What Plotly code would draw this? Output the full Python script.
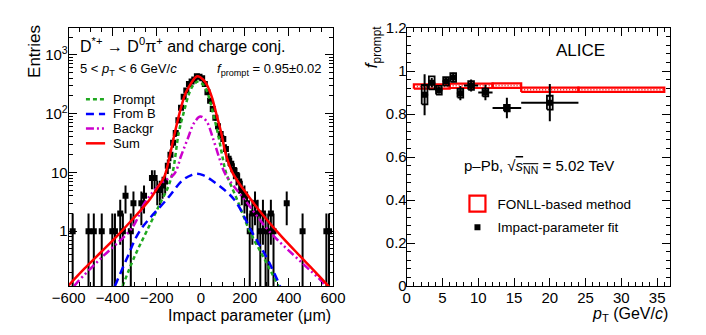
import numpy as np
import plotly.graph_objects as go

W, H = 706, 335

# ---- left panel: impact parameter distribution, 5 < pT < 6 GeV/c (12 um bins, non-empty only)
ip_centers = [-582, -510, -486, -450, -402, -390, -366, -354, -342, -318, -306, -270, -258,
              -222, -210, -198, -186, -174, -162, -150, -138, -126, -114, -102, -90, -78,
              -66, -54, -42, -30, -18, -6, 6, 18, 30, 42, 54, 66, 78, 90, 102, 114, 126,
              138, 150, 162, 174, 186, 198, 210, 222, 234, 246, 258, 270, 282, 294, 306,
              318, 330, 390, 462, 570, 582]
ip_counts = [1, 1, 1, 1, 1, 1, 2, 1, 4, 1, 3, 3, 4,
             8, 8, 5, 5, 6, 7, 13, 20, 32, 47, 77, 126, 194,
             248, 318, 350, 382, 433, 425, 400, 320, 230, 165, 120, 85, 61, 45, 37, 25, 17,
             14, 11, 9, 7, 5, 4, 3, 1, 2, 3, 2, 1, 2, 1, 1,
             2, 1, 3, 1, 1, 1]

# fit components
sum_x = [-600, -529, -456, -384, -311, -231, -190, -166, -140, -120, -97, -70, -46, -25,
         -13, 10, 27, 50, 70, 92, 114, 143, 194, 281, 368, 469, 571, 600]
sum_y = [0.12, 0.23, 0.43, 0.8, 1.58, 3.5, 6.0, 8.4, 20, 44, 101, 220, 320, 412,
         430, 380, 310, 190, 100, 48, 20, 10, 5.1, 1.9, 0.8, 0.32, 0.126, 0.095]

prompt_x = [-355, -304, -246, -179, -150, -128, -100, -79, -50, -30, -11, 10, 30, 56,
            80, 100, 114, 168, 222, 290, 353]
prompt_y = [0.117, 0.35, 1.0, 3.3, 5.5, 10, 48, 100, 236, 319, 350, 312, 227, 100,
            41, 17, 10, 3.2, 1.0, 0.33, 0.117]

fromb_x = [-390, -335, -278, -154, -82, -40, -17, 10, 48, 150, 230, 300, 360]
fromb_y = [0.117, 0.35, 1.0, 3.5, 7.4, 9.1, 9.5, 9.0, 7.4, 3.5, 1.0, 0.35, 0.117]

bkg_x = [-575, -556, -456, -311, -253, -180, -120, -90, -60, -30, -2, 25, 56, 85,
         110, 160, 208, 310, 455, 549, 565]
bkg_y = [0.117, 0.142, 0.34, 1.16, 3.1, 6.5, 9.5, 19, 37, 70, 89, 75, 37, 17,
         9.5, 5.2, 3.1, 1.0, 0.3, 0.14, 0.117]

# ---- right panel: f_prompt vs pT
pt_cent = [2.5, 3.5, 4.5, 5.5, 6.5, 7.5, 9, 11, 14, 20]
pt_halfw = [0.5, 0.5, 0.5, 0.5, 0.5, 0.5, 1, 1, 2, 4]
fp_val = [0.89, 0.945, 0.911, 0.952, 0.970, 0.897, 0.933, 0.900, 0.828, 0.853]
fp_stat = [0.095, 0.022, 0.015, 0.015, 0.022, 0.033, 0.028, 0.036, 0.048, 0.087]
fp_syst = [0.045, 0.030, 0.020, 0.020, 0.020, 0.020, 0.020, 0.018, 0.015, 0.032]

fonll_lo = [1, 6, 12, 16, 24]
fonll_hi = [6, 12, 16, 24, 36]
fonll_min = [0.918, 0.921, 0.922, 0.903, 0.903]
fonll_max = [0.938, 0.941, 0.943, 0.923, 0.923]

FONT = "Liberation Sans"


def px(x):
    return x / W


def py(y):
    return 1 - y / H


def box_path(x0, x1, y0, y1):
    xs, ys = [], []
    for a, b, c, d in zip(x0, x1, y0, y1):
        xs += [a, b, b, a, a, None]
        ys += [c, c, d, d, c, None]
    return xs, ys


fig = go.Figure()

# histogram points
fig.add_trace(go.Scatter(
    x=ip_centers, y=ip_counts, mode="markers", showlegend=False,
    marker=dict(symbol="square", size=6, color="black"),
    error_y=dict(type="data", array=np.sqrt(ip_counts), color="black", thickness=2, width=0),
    xaxis="x", yaxis="y"))

curves = [
    ("Prompt", prompt_x, prompt_y, "#1fa81f", "4px,3px"),
    ("From B", fromb_x, fromb_y, "#0000ff", "8px,5px"),
    ("Backgr", bkg_x, bkg_y, "#cc00cc", "8px,3px,2px,3px,2px,3px"),
    ("Sum", sum_x, sum_y, "#ff0000", "solid"),
]
for name, xs, ys, col, dash in curves:
    fig.add_trace(go.Scatter(
        x=xs, y=ys, mode="lines", name=name, showlegend=False,
        line=dict(color=col, width=2.5, dash=dash, shape="spline", smoothing=1.0),
        xaxis="x", yaxis="y"))

# legend of the fit components (compact ROOT-like rows)
for i, (name, xs, ys, col, dash) in enumerate(curves):
    yy = 95 + 15.5 * i
    fig.add_shape(type="line", xref="paper", yref="paper",
                  x0=px(72), x1=px(92), y0=py(yy), y1=py(yy),
                  line=dict(color=col, width=2.5, dash=dash))
    fig.add_annotation(text=name, x=px(98), y=py(yy), xref="paper", yref="paper",
                       showarrow=False, xanchor="left", yanchor="middle",
                       font=dict(family=FONT, size=13, color="black"))

# FONLL boxes
bx, by = box_path(fonll_lo, fonll_hi, fonll_min, fonll_max)
fig.add_trace(go.Scatter(x=bx, y=by, mode="lines", showlegend=False,
                         line=dict(color="red", width=2.2), xaxis="x2", yaxis="y2"))
mid_x, mid_y = [], []
for a, b, c, d in zip(fonll_lo, fonll_hi, fonll_min, fonll_max):
    mid_x += [a, b, None]
    mid_y += [(c + d) / 2, (c + d) / 2, None]
fig.add_trace(go.Scatter(x=mid_x, y=mid_y, mode="lines", showlegend=False,
                         line=dict(color="red", width=1.5, dash="1px,2px"),
                         xaxis="x2", yaxis="y2"))
fig.add_trace(go.Scatter(x=[None], y=[None], mode="markers", name="FONLL-based method",
                         legend="legend2", legendgroup="a",
                         marker=dict(symbol="square-open", size=16, color="red",
                                     line=dict(width=2.2)),
                         xaxis="x2", yaxis="y2"))

# systematic boxes of the fit points
sx, sy = box_path([c - 0.4 for c in pt_cent], [c + 0.4 for c in pt_cent],
                  [v - s for v, s in zip(fp_val, fp_syst)],
                  [v + s for v, s in zip(fp_val, fp_syst)])
fig.add_trace(go.Scatter(x=sx, y=sy, mode="lines", showlegend=False,
                         line=dict(color="black", width=1.8), xaxis="x2", yaxis="y2"))

fig.add_trace(go.Scatter(
    x=pt_cent, y=fp_val, mode="markers", name="Impact-parameter fit",
    legend="legend2", legendgroup="b",
    marker=dict(symbol="square", size=6, color="black"),
    error_x=dict(type="data", array=pt_halfw, color="black", thickness=2, width=0),
    error_y=dict(type="data", array=fp_stat, color="black", thickness=2, width=0),
    xaxis="x2", yaxis="y2"))

axis_style = dict(showline=True, linecolor="black", linewidth=1, mirror="allticks",
                  ticks="inside", ticklen=8, tickwidth=1, tickcolor="black",
                  showgrid=False, zeroline=False,
                  tickfont=dict(family=FONT, size=15, color="black"))

y_minor = [v * 10 ** e for e in range(-1, 4) for v in range(2, 10) if v * 10 ** e < 2900]

fig.update_layout(
    width=W, height=H, margin=dict(l=0, r=0, t=0, b=0),
    paper_bgcolor="white", plot_bgcolor="white",
    font=dict(family=FONT, color="black"),
    hovermode=False,
    xaxis=dict(domain=[px(54), px(330)], range=[-600, 600], dtick=200, tick0=0,
               minor=dict(ticks="inside", ticklen=4, dtick=50, tickcolor="black"),
               ticklabelstandoff=-2, anchor="y", **axis_style),
    yaxis=dict(domain=[py(292), py(20)], type="log", range=[-0.935, 3.456],
               tickvals=[1, 10, 100, 1000],
               ticktext=["1", "10", "10<sup>2</sup>", "10<sup>3</sup>"],
               minor=dict(ticks="inside", ticklen=4, tickvals=y_minor, tickcolor="black"),
               ticklabelstandoff=-3, anchor="x", **axis_style),
    xaxis2=dict(domain=[px(407), px(682)], range=[0, 36.8], dtick=5, tick0=0,
                minor=dict(ticks="inside", ticklen=4, dtick=1, tickcolor="black"),
                ticklabelstandoff=-2, anchor="y2", **axis_style),
    yaxis2=dict(domain=[py(292), py(20)], range=[0, 1.2], dtick=0.2, tick0=0,
                minor=dict(ticks="inside", ticklen=4, dtick=0.04, tickcolor="black"),
                ticklabelstandoff=-4, anchor="x2", **axis_style),
    legend2=dict(x=px(460), y=py(189), xanchor="left", yanchor="top",
                 bgcolor="rgba(0,0,0,0)", font=dict(family=FONT, size=13.5),
                 tracegroupgap=3, itemwidth=30),
)

ann = [
    dict(text="Entries", x=px(18), y=py(45), textangle=-90, size=17),
    dict(text="Impact parameter (μm)", x=px(330), y=py(322.5), size=16, xanchor="right"),
    dict(text="D<sup>*+</sup> → D<sup>0</sup>π<sup>+</sup> and charge conj.",
         x=px(64), y=py(38), size=16, xanchor="left"),
    dict(text="5 < <i>p</i><sub>T</sub> < 6 GeV/<i>c</i>", x=px(64), y=py(64), size=13,
         xanchor="left"),
    dict(text="<i>f</i><sub>prompt</sub> = 0.95±0.02", x=px(207), y=py(64), size=13,
         xanchor="left"),
    dict(text="<i>f</i><sub>prompt</sub>", x=px(372), y=py(40), textangle=-90, size=17),
    dict(text="ALICE", x=px(588), y=py(44), size=17),
    dict(text="p–Pb, √<span style='text-decoration:overline'><i>s</i><sub>NN</sub></span> = 5.02 TeV",
         x=px(545), y=py(166), size=15),
    dict(text="<i>p</i><sub>T</sub> (GeV/<i>c</i>)", x=px(682), y=py(322), size=16,
         xanchor="right"),
]
for a in ann:
    fig.add_annotation(text=a["text"], x=a["x"], y=a["y"], xref="paper", yref="paper",
                       showarrow=False, textangle=a.get("textangle", 0),
                       xanchor=a.get("xanchor", "center"), yanchor="middle",
                       font=dict(family=FONT, size=a["size"], color="black"))

# page body margin off so the figure fills the window exactly
fig.write_html("out.html", config={"displayModeBar": False},
               post_script="document.body.style.margin = '0';")
